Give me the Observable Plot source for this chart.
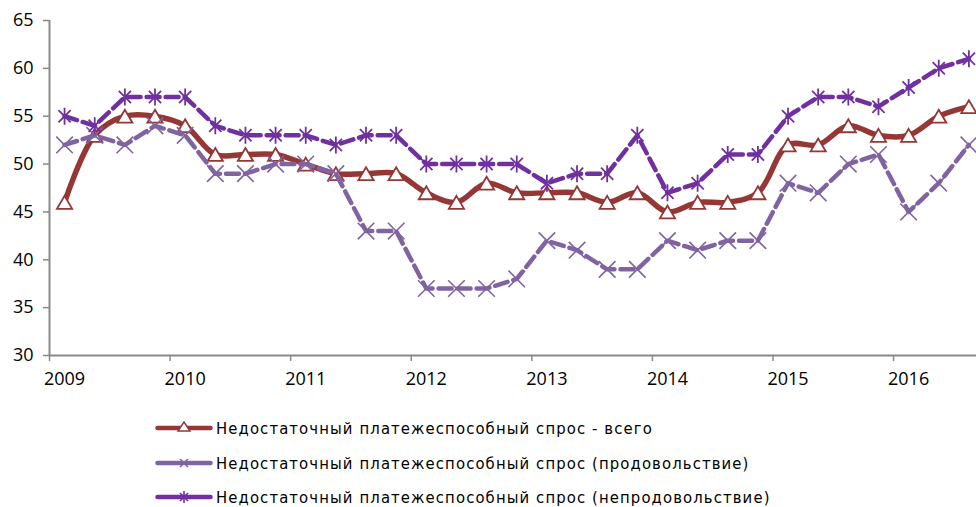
<!DOCTYPE html>
<html><head><meta charset="utf-8">
<script src="https://cdn.jsdelivr.net/npm/d3@7"></script>
<script src="https://cdn.jsdelivr.net/npm/@observablehq/plot@0.6"></script>
<style>
body{margin:0;background:#fff;}
#chart{position:relative;width:976px;height:507px;overflow:hidden;background:#fff}
.row{position:absolute;left:155px;height:20px;display:flex;align-items:center;white-space:nowrap}
.row span{font-family:"DejaVu Sans Condensed","DejaVu Sans",sans-serif;font-size:16.5px;color:#000;margin-left:3px}
</style></head><body><div id="chart"></div>
<script>
// Quarterly survey shares, % (2009 Q1 – 2016 Q3)
const years = [2009, 2010, 2011, 2012, 2013, 2014, 2015, 2016];
const yTicks = [30, 35, 40, 45, 50, 55, 60, 65];
const quarters = [];
for (const yr of years) for (let q = 1; q <= 4; q++) quarters.push({year: yr, q});
quarters.length = 31;
const total   = [46,53,55,55,54,51,51,51,50,49,49,49,47,46,48,47,47,47,46,47,45,46,46,47,52,52,54,53,53,55,56];
const food    = [52,53,52,54,53,49,49,50,50,49,43,43,37,37,37,38,42,41,39,39,42,41,42,42,48,47,50,51,45,48,52];
const nonfood = [55,54,57,57,57,54,53,53,53,52,53,53,50,50,50,50,48,49,49,53,47,48,51,51,55,57,57,56,58,60,61];
const seriesNames = [
  "Недостаточный платежеспособный спрос  - всего",
  "Недостаточный платежеспособный спрос (продовольствие)",
  "Недостаточный платежеспособный спрос (непродовольствие)"
];
const colors = ["#953735", "#8064a2", "#7030a0"];

const rows = quarters.map((d, i) => ({t: d.year + (d.q - 0.5) / 4, total: total[i], food: food[i], nonfood: nonfood[i]}));

const triSym = {draw(ctx, size) { const r = Math.sqrt(size / Math.PI); ctx.moveTo(0, -0.85 * r); ctx.lineTo(r, 0.85 * r); ctx.lineTo(-r, 0.85 * r); ctx.closePath(); }};
const timesSym = {draw(ctx, size) { const r = Math.sqrt(size / Math.PI) * 0.72; ctx.moveTo(-r, -r); ctx.lineTo(r, r); ctx.moveTo(-r, r); ctx.lineTo(r, -r); }};
const starSym = {draw(ctx, size) { const R = Math.sqrt(size / Math.PI); const r = R * 0.72; ctx.moveTo(0, -R); ctx.lineTo(0, R); ctx.moveTo(-r, -r); ctx.lineTo(r, r); ctx.moveTo(-r, r); ctx.lineTo(r, -r); }};

const axisColor = "#898989";
const plot = Plot.plot({
  width: 976, height: 400,
  marginLeft: 49, marginRight: 0, marginTop: 20, marginBottom: 45,
  style: {fontFamily: "'Open Sans', sans-serif", fontSize: "18px", color: "#000", background: "#fff", overflow: "visible"},
  x: {domain: [2009, 2016.688], axis: null},
  y: {domain: [30, 65], axis: null},
  marks: [
    Plot.axisY({ticks: yTicks, tickSize: 6, tickPadding: 10, stroke: axisColor, strokeWidth: 1.5, fill: "#000", fontSize: 18}),
    Plot.ruleX([2009], {stroke: axisColor, strokeWidth: 2}),
    Plot.ruleY([30], {stroke: axisColor, strokeWidth: 2}),
    Plot.tickX(years, {x: d => d, insetTop: 335, insetBottom: -6, stroke: axisColor, strokeWidth: 1.5}),
    Plot.text(years, {x: d => d + 0.125, y: 30, text: d => String(d), dy: 24, fontSize: 18, fill: "#000"}),
    Plot.line(rows, {x: "t", y: "total", stroke: colors[0], strokeWidth: 5.5, curve: "catmull-rom"}),
    Plot.dot(rows, {x: "t", y: "total", symbol: triSym, r: 7.6, fill: "#fff", stroke: colors[0], strokeWidth: 1.8}),
    Plot.line(rows, {x: "t", y: "food", stroke: colors[1], strokeWidth: 4.5, strokeDasharray: "13,6"}),
    Plot.dot(rows, {x: "t", y: "food", symbol: timesSym, r: 11.5, fill: "none", stroke: colors[1], strokeWidth: 1.6}),
    Plot.line(rows, {x: "t", y: "nonfood", stroke: colors[2], strokeWidth: 4.5, strokeDasharray: "13,6"}),
    Plot.dot(rows, {x: "t", y: "nonfood", symbol: starSym, r: 8.5, fill: "none", stroke: colors[2], strokeWidth: 1.8})
  ]
});
const chart = document.getElementById("chart");
chart.appendChild(plot);

// legend
const centers = [428, 463, 497];
const legendSyms = [
  c => `<path d="M23,13 L29,4 L35,13 Z" fill="#fff" stroke="${c}" stroke-width="1.5"/>`,
  c => `<path d="M25,6 L33,14 M25,14 L33,6" stroke="${c}" stroke-width="1.6" fill="none"/>`,
  c => `<path d="M29,4 L29,16 M25,6 L33,14 M25,14 L33,6" stroke="${c}" stroke-width="1.6" fill="none"/>`
];
seriesNames.forEach((name, i) => {
  const row = document.createElement("div");
  row.className = "row";
  row.style.top = (centers[i] - 10) + "px";
  row.innerHTML = `<svg width="58" height="20"><line x1="2.5" y1="10" x2="55.5" y2="10" stroke="${colors[i]}" stroke-width="4.5" stroke-linecap="round"/>${legendSyms[i](colors[i])}</svg><span>${name}</span>`;
  chart.appendChild(row);
});
const spans = chart.querySelectorAll(".row span");
const w0 = spans[0].getBoundingClientRect().width;
const ls = (438 - w0) / seriesNames[0].length;
spans.forEach(s => s.style.letterSpacing = ls + "px");
</script>
</body></html>
